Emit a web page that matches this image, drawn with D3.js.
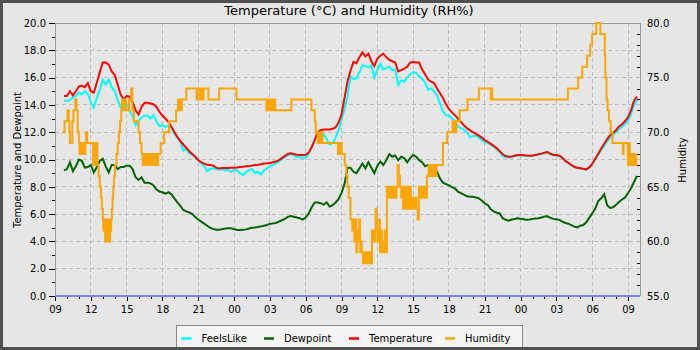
<!DOCTYPE html>
<html>
<head>
<meta charset="utf-8">
<script src="https://cdn.jsdelivr.net/npm/d3@7"></script>
<style>
  body { margin: 0; background: #fff; }
  svg { display: block; font-family: "DejaVu Sans", sans-serif; }
</style>
</head>
<body>
<svg id="chart" width="700" height="350"></svg>
<script>
// Weather station log: two days, 09:00 to 10:00 two days later.
const chartTitle = "Temperature (\u00b0C) and Humidity (RH%)";
const seriesNames = ["FeelsLike", "Dewpoint", "Temperature", "Humidity"];
const seriesColors = ["#00ffff", "#006400", "#ff0000", "#ffa500"];
const leftAxisTitle = "Temperature and Dewpoint";
const rightAxisTitle = "Humidity";
const leftTicks = [0, 2, 4, 6, 8, 10, 12, 14, 16, 18, 20];
const rightTicks = [55, 60, 65, 70, 75, 80];

// Temperature-type readings, one every 15 minutes starting 09:45 on day 1 (°C)
const firstSampleHour = 0.75;          // hours after 09:00 on day 1
const sampleIntervalHours = 0.25;

const temperature = [
  14.65, 14.65, 15.0, 14.7, 15.0, 15.35, 15.4, 15.3, 15.6, 15.0, 14.9, 15.6,
  16.4, 17.1, 17.1, 16.95, 16.45, 16.2, 15.5, 14.75, 14.4, 14.65, 14.6, 14.2,
  13.6, 13.3, 13.85, 14.15, 14.15, 14.1, 14.05, 13.85, 13.5, 13.2, 13.0, 12.75,
  12.4, 12.0, 11.65, 11.35, 11.1, 10.85, 10.6, 10.4, 10.2, 9.95, 9.8, 9.7,
  9.62, 9.6, 9.55, 9.4, 9.35, 9.37, 9.38, 9.38, 9.4, 9.4, 9.42, 9.45,
  9.47, 9.5, 9.5, 9.55, 9.6, 9.62, 9.65, 9.7, 9.72, 9.75, 9.8, 9.85,
  9.95, 10.1, 10.25, 10.4, 10.45, 10.4, 10.35, 10.33, 10.33, 10.35, 10.5, 10.9,
  11.4, 12.0, 12.15, 12.2, 12.2, 12.2, 12.25, 12.35, 12.7, 13.3, 14.5, 15.7,
  16.5, 17.15, 17.05, 17.5, 17.85, 17.55, 17.75, 17.2, 16.85, 17.4, 17.6, 17.75,
  17.5, 17.3, 17.2, 17.1, 16.45, 16.55, 16.65, 16.8, 17.1, 17.15, 17.1, 17.1,
  16.6, 16.25, 15.85, 15.7, 15.6, 15.2, 14.85, 14.5, 14.05, 13.7, 13.45, 13.25,
  13.0, 12.75, 12.5, 12.3, 12.15, 12.0, 11.88, 11.75, 11.6, 11.42, 11.3, 11.15,
  11.0, 10.82, 10.6, 10.38, 10.25, 10.2, 10.22, 10.28, 10.33, 10.33, 10.32, 10.3,
  10.28, 10.3, 10.33, 10.38, 10.43, 10.5, 10.55, 10.42, 10.33, 10.33, 10.28, 10.12,
  9.9, 9.75, 9.6, 9.47, 9.4, 9.36, 9.32, 9.28, 9.42, 9.68, 10.05, 10.42,
  10.8, 11.15, 11.5, 11.78, 11.95, 12.16, 12.42, 12.58, 12.82, 13.1, 13.6, 14.3,
  14.6
];

const feelsLike = [
  14.3, 14.3, 14.35, 14.55, 14.65, 14.9, 14.75, 15.0, 14.8, 14.2, 13.8, 14.5,
  15.1, 15.85, 15.5, 15.85, 15.3, 15.0, 14.35, 13.8, 13.8, 14.1, 13.55, 13.2,
  12.5, 12.8, 13.1, 13.2, 13.2, 13.0, 13.25, 12.8, 12.45, 12.5, 12.4, 12.45,
  12.35, 11.9, 11.6, 11.3, 10.65, 10.8, 10.45, 10.35, 10.15, 9.95, 9.72, 9.5,
  9.15, 9.3, 9.35, 9.3, 9.25, 9.3, 9.2, 9.25, 9.1, 9.25, 9.2, 9.0,
  8.85, 9.1, 9.2, 9.3, 9.0, 9.1, 8.9, 9.2, 9.35, 9.5, 9.6, 9.7,
  9.85, 10.0, 10.2, 10.3, 10.4, 10.3, 10.2, 10.15, 10.15, 10.15, 10.4, 10.9,
  11.5, 11.9, 11.95, 11.85, 11.5, 11.1, 11.2, 11.6, 12.15, 12.9, 13.7, 14.6,
  16.1, 15.9, 15.95, 16.4, 16.9, 16.85, 16.75, 16.9, 16.0, 16.6, 17.0, 16.6,
  16.7, 16.8, 16.55, 16.6, 15.45, 15.8, 15.7, 16.0, 16.25, 16.4, 16.35, 16.1,
  15.9, 15.65, 15.1, 15.2, 15.0, 14.7, 14.1, 13.5, 13.25, 13.25, 13.0, 12.85,
  12.4, 12.3, 12.18, 12.0, 11.65, 11.7, 11.75, 11.6, 11.42, 11.3, 11.22, 11.08,
  10.92, 10.75, 10.55, 10.25, 10.18, 10.15, 10.18, 10.25, 10.3, 10.3, 10.3, 10.28,
  10.26, 10.28, 10.32, 10.36, 10.42, 10.48, 10.52, 10.4, 10.32, 10.32, 10.26, 10.1,
  9.88, 9.73, 9.58, 9.45, 9.38, 9.34, 9.3, 9.26, 9.4, 9.66, 10.0, 10.35,
  10.7, 11.0, 11.35, 11.6, 11.8, 12.0, 12.25, 12.4, 12.6, 12.85, 13.35, 14.0,
  14.35
];

const dewpoint = [
  9.2, 9.3, 9.8, 9.15, 9.5, 10.0, 9.9, 9.4, 9.45, 9.6, 9.05, 9.45,
  9.9, 10.05, 9.5, 9.05, 9.6, 9.6, 9.3, 9.45, 9.45, 9.55, 9.55, 9.3,
  8.7, 8.5, 8.7, 8.3, 8.3, 8.25, 8.1, 7.8, 7.65, 7.6, 7.5, 7.6,
  7.45, 7.15, 6.85, 6.6, 6.3, 6.2, 6.12, 6.0, 5.78, 5.6, 5.45, 5.3,
  5.15, 5.0, 4.92, 4.85, 4.86, 4.9, 4.94, 4.96, 4.96, 4.9, 4.84, 4.84,
  4.86, 4.88, 4.95, 5.0, 5.02, 5.05, 5.1, 5.15, 5.2, 5.28, 5.32, 5.35,
  5.45, 5.55, 5.65, 5.8, 5.85, 5.8, 5.75, 5.7, 5.6, 5.75, 6.05, 6.5,
  6.85, 6.85, 6.8, 6.7, 6.85, 6.55, 6.65, 6.85, 7.1, 7.55, 8.2, 9.4,
  9.4, 9.1, 9.0, 9.35, 9.7, 9.35, 9.8, 9.4, 9.0, 9.55, 9.85, 9.6,
  9.95, 10.4, 10.2, 10.3, 9.95, 10.2, 10.1, 9.8, 10.1, 10.35, 10.2, 9.95,
  9.8, 9.5, 9.6, 9.47, 9.47, 9.1, 8.6, 8.3, 8.2, 8.1, 7.98, 7.88,
  7.65, 7.53, 7.42, 7.3, 7.28, 7.28, 7.22, 7.15, 7.0, 6.78, 6.67, 6.35,
  6.2, 6.1, 6.05, 5.7, 5.58, 5.52, 5.6, 5.64, 5.69, 5.66, 5.62, 5.58,
  5.6, 5.65, 5.67, 5.69, 5.75, 5.82, 5.84, 5.72, 5.65, 5.62, 5.58, 5.45,
  5.35, 5.3, 5.2, 5.08, 5.03, 5.15, 5.2, 5.4, 5.72, 6.05, 6.4, 6.95,
  7.16, 7.45, 6.65, 6.45, 6.5, 6.68, 6.9, 7.07, 7.22, 7.55, 7.9, 8.35,
  8.8
];

// Relative humidity is logged in whole percent: hour (after 09:00 day 1) at
// which the reading changed, and the new reading.
const humidityHours = [
  0.64, 0.8, 1.05, 1.15, 1.2, 1.26, 1.45, 1.55, 1.7, 1.8, 1.9, 2.0,
  2.05, 2.15, 2.25, 2.35, 2.45, 2.55, 2.6, 2.7,
  3.2, 3.3, 3.35, 3.45, 3.55, 3.65, 3.75, 3.85, 3.92, 4.0,
  4.05, 4.12, 4.2, 4.28, 4.36, 4.44, 4.5, 4.56, 4.62,
  4.7, 4.76, 4.82, 4.88, 4.95, 5.02, 5.15, 5.25, 5.35, 5.45, 5.55, 5.62, 5.75, 5.85, 5.95, 6.2, 6.38, 6.48, 6.6, 7.0, 7.12, 7.25,
  7.35, 7.45, 7.55, 7.65, 7.75, 7.85, 7.95, 8.05, 8.15, 8.25, 8.35, 8.45, 8.55,
  8.65, 8.85, 9.15, 9.55, 10.15, 10.3, 10.38, 10.46, 10.54, 10.62, 11.0, 11.85, 11.95, 12.15, 12.22, 12.32, 12.45, 12.85, 13.75,
  15.2, 17.71, 17.85, 17.95, 18.1, 18.2, 18.35, 18.45, 19.8, 21.48, 21.76, 21.84,
  22.0, 22.1, 22.2, 22.3, 22.4, 23.7, 23.78, 23.86, 23.94, 24.02, 24.27, 24.41, 24.5, 24.6, 24.75, 24.9,
  25.0, 25.08, 25.16, 25.24, 25.32, 25.4, 25.48, 25.56, 25.64, 25.7, 25.8,
  25.9, 26.0, 26.08, 26.16, 26.24, 26.32, 26.42, 26.5,
  26.55, 26.7, 26.85, 26.95, 27.05, 27.15, 27.22, 27.3, 27.38, 27.46, 27.54, 27.62, 27.7,
  27.8, 27.88, 27.96, 28.04, 28.12, 28.2, 28.28, 28.36, 28.44, 28.52, 28.6,
  28.7, 28.8, 28.9, 29.0, 29.08, 29.16, 29.24, 29.32, 29.4, 29.48, 29.56, 29.64, 29.72, 29.8, 29.88, 29.96, 30.04, 30.12, 30.2, 30.28, 30.38, 30.48,
  30.56, 30.64, 30.72, 30.8, 30.88, 30.96, 31.04, 31.15,
  31.3, 31.38, 31.46, 31.54, 31.62, 31.7, 31.78, 31.86, 31.94,
  32.5, 32.85, 33.3, 33.38, 33.46, 33.54, 33.62, 33.89, 34.55, 35.5, 36.5, 36.55, 36.62,
  42.96, 43.82, 44.16, 44.57, 44.83, 44.99, 45.33, 45.68, 46.05, 46.1, 46.2, 46.28, 46.4, 46.55, 46.7, 47.56, 47.62, 47.98,
  48.0, 48.08, 48.14, 48.2, 48.28, 48.36, 48.44, 48.52, 48.6, 48.68
];
const humidityValues = [
  70, 71, 72, 71, 70, 69, 71, 72, 73, 72, 70, 69,
  68, 69, 68, 69, 68, 69, 70, 69,
  67, 69, 67, 69, 67, 66, 65, 64, 63, 62,
  61, 62, 60, 62, 61, 60, 62, 60, 61,
  62, 63, 64, 65, 66, 67, 68, 69, 70, 71, 72, 73, 72, 73, 72, 73, 74, 72, 71, 70, 69, 68,
  67, 68, 67, 68, 67, 68, 67, 68, 67, 68, 67, 68, 67,
  68, 69, 70, 71, 72, 73, 72, 73, 72, 73, 74, 73, 74, 73, 74, 73, 74, 73, 74,
  73, 72, 73, 72, 73, 72, 73, 72, 73, 72, 71, 70,
  69, 70, 69, 70, 69, 68, 69, 68, 69, 68, 67, 66, 65, 64, 62, 61,
  62, 60, 62, 59, 61, 60, 62, 59, 60, 59, 58,
  59, 58, 59, 58, 59, 58, 59, 58,
  61, 60, 63, 61, 60, 62, 59, 61, 59, 60, 59, 61, 59,
  65, 64, 65, 64, 65, 64, 65, 64, 65, 64, 65,
  67, 66, 65, 64, 65, 63, 65, 64, 63, 65, 63, 64, 65, 63, 64, 63, 64, 63, 64, 63, 62, 65,
  64, 65, 64, 65, 64, 65, 64, 66,
  67, 66, 67, 66, 67, 66, 67, 66, 67,
  69, 70, 71, 70, 71, 70, 71, 72, 73, 74, 73, 74, 73,
  74, 75, 76, 77, 78, 79, 80, 79, 77, 75, 73, 72, 71, 70, 69, 68, 69, 68,
  67, 69, 67, 68, 67, 68, 67, 68, 67, 68
];

// ---- layout ----
const W = 700, H = 350;
const plot = { left: 55, right: 640, top: 23, bottom: 296 };
const HOUR = 3600e3;
const start = new Date(2024, 0, 1, 9, 0, 0);
const end = new Date(+start + 49 * HOUR);
const at = h => new Date(+start + h * HOUR);

const svg = d3.select("#chart");

svg.append("rect").attr("width", W).attr("height", H).attr("fill", "#e6e6e6");

const x = d3.scaleTime().domain([start, end]).range([plot.left, plot.right]);
const yL = d3.scaleLinear().domain([0, 20]).range([plot.bottom, plot.top]);
const yR = d3.scaleLinear().domain([55, 80]).range([plot.bottom, plot.top]);

// grid
const majorHours = d3.timeHour.every(3).range(start, end);
const grid = svg.append("g").attr("stroke", "#bcbcbc").attr("stroke-dasharray", "4,3").attr("shape-rendering", "crispEdges");
grid.selectAll("line.h").data(leftTicks.filter(v => v > 0 && v < 20)).join("line")
  .attr("x1", plot.left).attr("x2", plot.right)
  .attr("y1", d => yL(d)).attr("y2", d => yL(d));
grid.selectAll("line.v").data(majorHours.slice(1)).join("line")
  .attr("x1", d => x(d)).attr("x2", d => x(d))
  .attr("y1", plot.top).attr("y2", plot.bottom);

// plot frame
const frame = svg.append("g").attr("stroke", "#999").attr("shape-rendering", "crispEdges");
frame.append("line").attr("x1", plot.left).attr("x2", plot.right).attr("y1", plot.top).attr("y2", plot.top);
frame.append("line").attr("x1", plot.left).attr("x2", plot.left).attr("y1", plot.top).attr("y2", plot.bottom);
frame.append("line").attr("x1", plot.right).attr("x2", plot.right).attr("y1", plot.top).attr("y2", plot.bottom);

// axes
function styleAxis(g) {
  g.select(".domain").remove();
  g.selectAll(".tick line").attr("stroke", "#000").attr("shape-rendering", "crispEdges");
  g.selectAll("text").attr("fill", "#000").attr("font-size", 10).attr("font-family", "DejaVu Sans, sans-serif");
}

svg.append("g").attr("transform", `translate(0,${plot.bottom})`)
  .call(d3.axisBottom(x).tickValues(d3.timeHour.every(1).range(start, end)).tickSize(3).tickFormat(""))
  .call(styleAxis);
svg.append("g").attr("transform", `translate(0,${plot.bottom})`)
  .call(d3.axisBottom(x).tickValues(majorHours).tickSize(5).tickPadding(5).tickFormat(d3.timeFormat("%H")))
  .call(styleAxis);

svg.append("g").attr("transform", `translate(${plot.left},0)`)
  .call(d3.axisLeft(yL).tickValues(d3.range(1, 20, 2)).tickSize(3).tickFormat(""))
  .call(styleAxis);
svg.append("g").attr("transform", `translate(${plot.left},0)`)
  .call(d3.axisLeft(yL).tickValues(leftTicks).tickSize(6).tickPadding(3).tickFormat(d3.format(".1f")))
  .call(styleAxis);

svg.append("g").attr("transform", `translate(${plot.right},0)`)
  .call(d3.axisRight(yR).tickValues(d3.range(56, 80).filter(v => v % 5)).tickSize(-3).tickFormat(""))
  .call(styleAxis);
svg.append("g").attr("transform", `translate(${plot.right},0)`)
  .call(d3.axisRight(yR).tickValues(rightTicks).tickSize(0).tickPadding(7).tickFormat(d3.format(".1f")))
  .call(styleAxis);

// zero line
svg.append("line").attr("x1", plot.left).attr("x2", plot.right)
  .attr("y1", yL(0)).attr("y2", yL(0))
  .attr("stroke", "#8080f0").attr("stroke-width", 2);

// series
const sampleTimes = temperature.map((_, i) => at(firstSampleHour + i * sampleIntervalHours));
const tempLine = d3.line().x((d, i) => x(sampleTimes[i])).y(d => yL(d));
const humLine = d3.line().curve(d3.curveStepAfter)
  .x((d, i) => x(at(humidityHours[i]))).y(d => yR(d));

const lines = svg.append("g").attr("fill", "none").attr("stroke-width", 2).attr("stroke-linejoin", "miter");
[feelsLike, dewpoint, temperature].forEach((vals, k) => {
  lines.append("path").attr("d", tempLine(vals)).attr("stroke", seriesColors[k]);
});
lines.append("path").attr("d", humLine(humidityValues)).attr("stroke", seriesColors[3]);

// titles
svg.append("text").attr("x", 349).attr("y", 15).attr("text-anchor", "middle")
  .attr("font-size", 13).attr("fill", "#000").text(chartTitle);
svg.append("text").attr("transform", "translate(17,160) rotate(-90)").attr("text-anchor", "middle")
  .attr("dy", "0.35em").attr("font-size", 10).attr("fill", "#000").text(leftAxisTitle);
svg.append("text").attr("transform", "translate(682,160) rotate(-90)").attr("text-anchor", "middle")
  .attr("dy", "0.35em").attr("font-size", 10).attr("fill", "#000").text(rightAxisTitle);

// legend
svg.append("rect").attr("x", 176.5).attr("y", 325.5).attr("width", 346).attr("height", 30)
  .attr("fill", "#f4f4f4").attr("stroke", "#888");
const legendX = [181.5, 264, 349, 445];
const leg = svg.append("g").selectAll("g").data(seriesNames).join("g")
  .attr("transform", (d, i) => `translate(${legendX[i]},0)`);
leg.append("line").attr("x1", 0).attr("x2", 10).attr("y1", 338.5).attr("y2", 338.5)
  .attr("stroke", (d, i) => seriesColors[i]).attr("stroke-width", 2.5);
leg.append("text").attr("x", 20).attr("y", 341.5).attr("font-size", 10).attr("fill", "#000").text(d => d);

// outer border
svg.append("rect").attr("x", 1.5).attr("y", 1.5).attr("width", W - 3).attr("height", H - 3)
  .attr("fill", "none").attr("stroke", "#505050").attr("stroke-width", 3);
</script>
</body>
</html>
